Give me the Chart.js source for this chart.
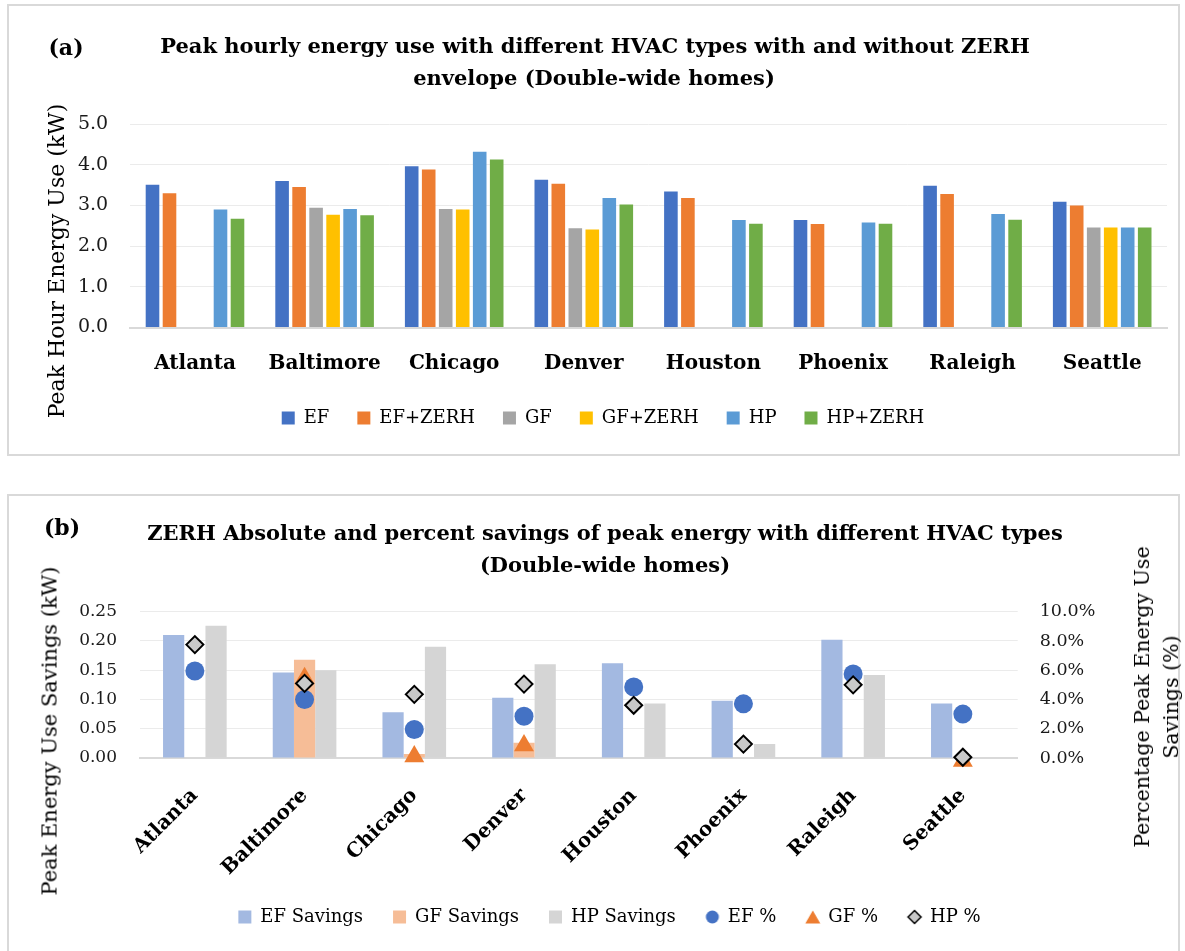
<!DOCTYPE html>
<html>
<head>
<meta charset="utf-8">
<script src="https://cdn.jsdelivr.net/npm/chart.js@4.4.0/dist/chart.umd.min.js"></script>
<style>
  body { margin: 0; background: #fff; }
  #page { position: relative; width: 1185px; height: 951px; overflow: hidden; font-family: 'DejaVu Serif', serif; color: #000; }
  .box { position: absolute; border: 2px solid #d9d9d9; box-sizing: border-box; }
  canvas { position: absolute; left: 0; }
  .txt { position: absolute; white-space: nowrap; line-height: 1; transform: translate(-50%, -50%); }
  .bold { font-weight: bold; }
  .rot { transform: translate(-50%, -50%) rotate(-90deg); text-align: center; }
</style>
</head>
<body>
<div id="page">
  <div class="box" style="left:7px; top:4px; width:1173px; height:452px;"></div>
  <div class="box" style="left:7px; top:494px; width:1173px; height:470px;"></div>

  <canvas id="chartA" width="1185" height="470" style="top:0"></canvas>
  <canvas id="chartB" width="1185" height="471" style="top:480px"></canvas>

  <!-- textos (a) -->
  <div class="txt bold" style="left:66px; top:47px; font-size:22px;">(a)</div>
  <div class="txt bold" style="left:595px; top:45px; font-size:21px;">Peak hourly energy use with different HVAC types with and without ZERH</div>
  <div class="txt bold" style="left:594px; top:77px; font-size:21px;">envelope (Double-wide homes)</div>
  <div class="txt rot" style="left:57px; top:261px; font-size:22px;">Peak Hour Energy Use (kW)</div>

  <!-- textos (b) -->
  <div class="txt bold" style="left:62px; top:527px; font-size:22px;">(b)</div>
  <div class="txt bold" style="left:605px; top:532px; font-size:21px;">ZERH Absolute and percent savings of peak energy with different HVAC types</div>
  <div class="txt bold" style="left:605px; top:564px; font-size:21px;">(Double-wide homes)</div>
  <div class="txt rot" style="left:50px; top:731px; font-size:21px;">Peak Energy Use Savings (kW)</div>
  <div class="txt rot" style="left:1157px; top:697px; font-size:20.5px; line-height:29px;">Percentage Peak Energy Use<br>Savings (%)</div>
</div>

<script>
// Ciudades
const cities = ['Atlanta', 'Baltimore', 'Chicago', 'Denver', 'Houston', 'Phoenix', 'Raleigh', 'Seattle']

// (a) Pico horario (kW)
const ef = [3.51, 3.60, 3.96, 3.63, 3.34, 2.64, 3.48, 3.09]
const efZerh = [3.30, 3.45, 3.88, 3.53, 3.18, 2.54, 3.28, 3.00]
const gf = [null, 2.94, 2.91, 2.44, null, null, null, 2.46]
const gfZerh = [null, 2.77, 2.90, 2.41, null, null, null, 2.46]
const hp = [2.90, 2.91, 4.32, 3.18, 2.64, 2.58, 2.79, 2.46]
const hpZerh = [2.67, 2.76, 4.13, 3.02, 2.55, 2.55, 2.65, 2.46]

// (b) Ahorros (kW) y porcentajes (%)
const efSavings = [0.210, 0.146, 0.078, 0.103, 0.162, 0.098, 0.202, 0.093]
const gfSavings = [null, 0.168, 0.007, 0.026, null, null, null, 0]
const hpSavings = [0.226, 0.150, 0.190, 0.160, 0.093, 0.024, 0.142, 0]
const efPct = [5.95, 4.0, 1.95, 2.85, 4.85, 3.7, 5.75, 3.0]
const gfPct = [null, 5.45, 0.1, 0.85, null, null, null, -0.2]
const hpPct = [7.75, 5.1, 4.35, 5.05, 3.6, 0.95, 5.0, 0.05]

const family = "'DejaVu Serif', serif"
Chart.defaults.font.family = family
Chart.defaults.color = '#000'

const cityFont = { family, size: 20, weight: 'bold' }

// Gráfico (a)
new Chart(document.getElementById('chartA'), {
  type: 'bar',
  data: {
    labels: cities,
    datasets: [
      { label: 'EF', data: ef, backgroundColor: '#4472c4' },
      { label: 'EF+ZERH', data: efZerh, backgroundColor: '#ed7d31' },
      { label: 'GF', data: gf, backgroundColor: '#a5a5a5' },
      { label: 'GF+ZERH', data: gfZerh, backgroundColor: '#ffc000' },
      { label: 'HP', data: hp, backgroundColor: '#5b9bd5' },
      { label: 'HP+ZERH', data: hpZerh, backgroundColor: '#70ad47' },
    ],
  },
  options: {
    responsive: false,
    animation: false,
    layout: { padding: { left: 39, right: 18, top: 124, bottom: 33 } },
    datasets: { bar: { categoryPercentage: 0.787, barPercentage: 0.8 } },
    plugins: {
      legend: {
        position: 'bottom',
        labels: { font: { family, size: 18 }, color: '#000', boxWidth: 13, boxHeight: 13, padding: 28 },
      },
      tooltip: { enabled: false },
    },
    scales: {
      x: {
        grid: { display: false, drawTicks: false },
        border: { color: '#d9d9d9', width: 2 },
        ticks: { font: cityFont, color: '#000', padding: 24 },
        afterFit: (scale) => { scale.height = 53.5 },
      },
      y: {
        min: 0,
        max: 5,
        ticks: { stepSize: 1, font: { family, size: 19 }, color: '#1a1a1a', padding: 22, callback: (v) => v.toFixed(1) },
        grid: { color: '#ebebeb', drawTicks: false },
        border: { display: false },
        afterFit: (scale) => { scale.width = 91.2 },
      },
    },
  },
})

// Marcadores de la leyenda (b)
function marker(draw) {
  const c = document.createElement('canvas')
  c.width = 18
  c.height = 18
  draw(c.getContext('2d'))
  return c
}
const circleMark = marker((ctx) => {
  ctx.fillStyle = '#4472c4'
  ctx.beginPath(); ctx.arc(9, 9, 6.5, 0, Math.PI * 2); ctx.fill()
})
const triangleMark = marker((ctx) => {
  ctx.fillStyle = '#ed7d31'
  ctx.beginPath(); ctx.moveTo(9, 2.5); ctx.lineTo(16.5, 15.5); ctx.lineTo(1.5, 15.5); ctx.closePath(); ctx.fill()
})
const diamondMark = marker((ctx) => {
  ctx.fillStyle = '#c9c9c9'
  ctx.strokeStyle = '#000'
  ctx.lineWidth = 1.5
  ctx.beginPath(); ctx.moveTo(9, 2.5); ctx.lineTo(15.5, 9); ctx.lineTo(9, 15.5); ctx.lineTo(2.5, 9); ctx.closePath(); ctx.fill(); ctx.stroke()
})

const points = { type: 'line', showLine: false, yAxisID: 'y2', clip: false }

// Gráfico (b)
new Chart(document.getElementById('chartB'), {
  type: 'bar',
  data: {
    labels: cities,
    datasets: [
      { label: 'EF Savings', data: efSavings, backgroundColor: '#a3b9e1', order: 10, legendMark: 'rect' },
      { label: 'GF Savings', data: gfSavings, backgroundColor: '#f6bd97', order: 10, legendMark: 'rect' },
      { label: 'HP Savings', data: hpSavings, backgroundColor: '#d5d5d5', order: 10, legendMark: 'rect' },
      { ...points, label: 'EF %', data: efPct, order: 3, pointStyle: 'circle', pointRadius: 9.5,
        backgroundColor: '#4472c4', borderColor: '#4472c4', borderWidth: 0, legendMark: circleMark },
      { ...points, label: 'GF %', data: gfPct, order: 2, pointStyle: 'triangle', pointRadius: 11.5,
        backgroundColor: '#ed7d31', borderColor: '#ed7d31', borderWidth: 0, legendMark: triangleMark },
      { ...points, label: 'HP %', data: hpPct, order: 1, pointStyle: 'rectRot', pointRadius: 8.5,
        backgroundColor: '#c9c9c9', borderColor: '#000', pointBorderWidth: 2, legendMark: diamondMark },
    ],
  },
  options: {
    responsive: false,
    animation: false,
    layout: { padding: { left: 34, right: 0, top: 131.7, bottom: 15 } },
    datasets: { bar: { categoryPercentage: 0.58, barPercentage: 1.0 } },
    plugins: {
      legend: {
        position: 'bottom',
        labels: {
          font: { family, size: 18 },
          color: '#000',
          boxWidth: 13,
          boxHeight: 13,
          padding: 30,
          usePointStyle: true,
          generateLabels: (chart) =>
            chart.data.datasets.map((ds, i) => ({
              text: ds.label,
              datasetIndex: i,
              fillStyle: ds.backgroundColor,
              strokeStyle: ds.backgroundColor,
              lineWidth: 0,
              pointStyle: ds.legendMark,
              hidden: false,
            })),
        },
      },
      tooltip: { enabled: false },
    },
    scales: {
      x: {
        grid: { display: false, drawTicks: false },
        border: { color: '#d9d9d9', width: 2 },
        ticks: { font: cityFont, color: '#000', padding: 26, minRotation: 45, maxRotation: 45 },
        afterFit: (scale) => { scale.height = 120 },
      },
      y: {
        position: 'left',
        min: 0,
        max: 0.25,
        ticks: { stepSize: 0.05, font: { family, size: 17 }, color: '#1a1a1a', padding: 23, callback: (v) => v.toFixed(2) },
        grid: { color: '#ebebeb', drawTicks: false },
        border: { display: false },
        afterFit: (scale) => { scale.width = 106 },
      },
      y2: {
        position: 'right',
        min: 0,
        max: 10,
        ticks: { stepSize: 2, font: { family, size: 17.5 }, color: '#1a1a1a', padding: 22, callback: (v) => v.toFixed(1) + '%' },
        grid: { drawOnChartArea: false, drawTicks: false },
        border: { display: false },
        afterFit: (scale) => { scale.width = 167.3 },
      },
    },
  },
})
</script>
</body>
</html>
